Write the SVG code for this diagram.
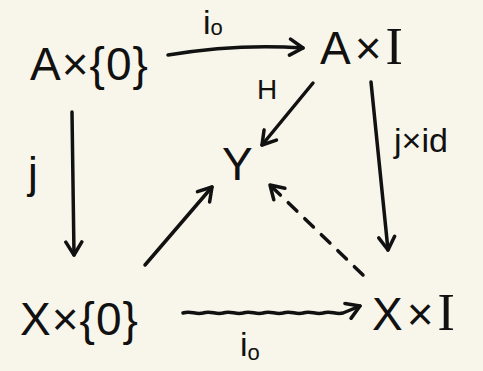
<svg xmlns="http://www.w3.org/2000/svg" width="483" height="371" viewBox="0 0 483 371">
<style>
.t{font-family:"Liberation Sans","DejaVu Sans",sans-serif;fill:#111}
.n{font-size:46px}
.l{font-size:34px}
.s{font-family:"Liberation Serif",serif}
.e{fill:none;stroke:#111;stroke-width:3.5;stroke-linecap:round;stroke-linejoin:round}
</style>
<defs>
<marker id="ah" viewBox="0 0 20 20" refX="16" refY="10" markerWidth="20" markerHeight="20" markerUnits="userSpaceOnUse" orient="auto">
<path d="M3,2 L16,10 L3,18" fill="none" stroke="#111" stroke-width="3.5" stroke-linecap="round" stroke-linejoin="round"/>
</marker>
</defs>
<rect width="483" height="371" fill="#f8f6ea"/>
<g id="n1"><text class="t n" x="30" y="80" letter-spacing="1">A×{0}</text></g>
<g id="n2"><text class="t n" x="320" y="64" letter-spacing="4">A×<tspan class="s" font-size="52">I</tspan></text></g>
<g id="n3"><text class="t n" x="20" y="335" letter-spacing="1">X×{0}</text></g>
<g id="n4"><text class="t n" x="372" y="330" letter-spacing="4">X×<tspan class="s" font-size="52">I</tspan></text></g>
<g id="n5"><text class="t n" x="222" y="180">Y</text></g>
<g id="connectors">
<path class="e" d="M168,55 C210,48 260,45 303,48" marker-end="url(#ah)"/>
<path class="e" d="M72,112 L74,255" marker-end="url(#ah)"/>
<path class="e" d="M313,83 L262,145" marker-end="url(#ah)"/>
<path class="e" d="M371,82 L388,250" marker-end="url(#ah)"/>
<path class="e" d="M145,265 L212,187" marker-end="url(#ah)"/>
<path class="e" d="M363,275 L270,185" stroke-dasharray="12 11" marker-end="url(#ah)"/>
<path class="e" d="M183,313 c8,-3 12,2 20,0 c8,-3 12,2 20,0 c8,-3 12,2 20,0 c8,-3 12,2 20,0 c8,-3 12,2 20,0 c8,-3 12,2 20,0 c8,-3 12,2 20,0 c8,-3 12,2 20,0 L360,306" marker-end="url(#ah)"/>
<text class="t l" x="203" y="34">i<tspan font-size="22" dy="1">o</tspan></text>
<text class="t" font-size="44" x="28" y="188">j</text>
<text class="t" font-size="28" x="257" y="99">H</text>
<text class="t l" x="394" y="152">j×id</text>
<text class="t l" x="240" y="356">i<tspan font-size="22" dy="4">o</tspan></text>
</g>
</svg>
